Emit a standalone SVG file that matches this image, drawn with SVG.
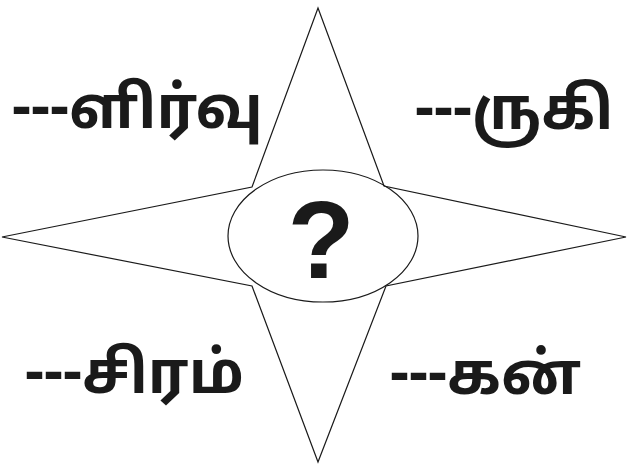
<svg xmlns="http://www.w3.org/2000/svg" width="628" height="464" viewBox="0 0 628 464">
<style>
.ln{fill:none;stroke:#1a1a1a;stroke-width:1.2}
.tm{font-family:"Noto Sans Tamil","Latha","Noto Sans",sans-serif;font-weight:bold;font-size:59px;fill:#1a1a1a}
.q{font-family:"Liberation Sans",Arial,sans-serif;font-weight:bold;font-size:110px;fill:#1a1a1a}
</style>
<rect width="628" height="464" fill="#fff"/>
<g id="connectors">
<path class="ln" d="M318,8 L384,186 L626,237 L386,286 L318,462 L252,286 L2,237 L252,187 Z"/>
</g>
<g id="center">
<ellipse class="ln" cx="323" cy="236" rx="95" ry="66" fill="#fff"/>
<text class="q" x="321" y="278" text-anchor="middle">?</text>
</g>
<g id="tl"><text class="tm" x="12" y="128">---ளிர்வு</text></g>
<g id="tr"><text class="tm" x="415" y="129">---ருகி</text></g>
<g id="bl"><text class="tm" x="25" y="393">---சிரம்</text></g>
<g id="br"><text class="tm" x="390" y="394">---கன்</text></g>
</svg>
